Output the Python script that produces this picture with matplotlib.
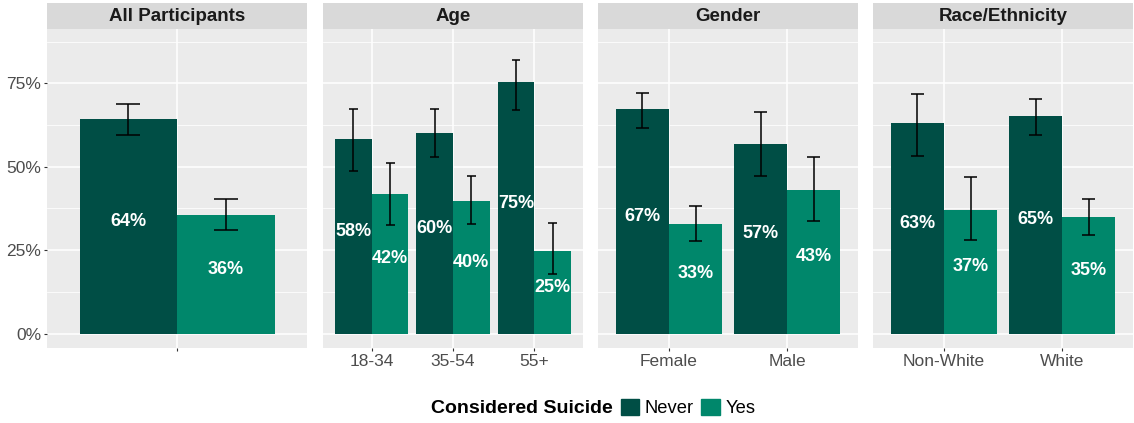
import matplotlib.pyplot as plt
import matplotlib.patches as mpatches
import numpy as np

plt.rcParams['font.family'] = ['Liberation Sans', 'DejaVu Sans']

# facet data: percent never / yes considered suicide, with 95% intervals
facets = ['All Participants', 'Age', 'Gender', 'Race/Ethnicity']
groups = [[''], ['18-34', '35-54', '55+'], ['Female', 'Male'], ['Non-White', 'White']]
never = [[64.4], [58.2, 60.2, 75.3], [67.2, 56.9], [63.0, 65.1]]
yes = [[35.6], [41.8, 39.8, 24.7], [32.8, 43.1], [37.0, 34.9]]
never_lo = [[59.6], [48.7, 52.8, 67.0], [61.7, 47.1], [53.2, 59.6]]
never_hi = [[68.9], [67.4, 67.2, 82.0], [72.2, 66.4], [71.9, 70.3]]
yes_lo = [[31.0], [32.6, 32.7, 18.0], [27.8, 33.6], [28.0, 29.6]]
yes_hi = [[40.3], [51.2, 47.2, 33.0], [38.3, 53.0], [47.0, 40.4]]

c_never = '#004e45'
c_yes = '#00876b'
grey_txt = '#4d4d4d'

W, H = 1134, 423
fig = plt.figure(figsize=(W / 100, H / 100), dpi=100)

panel_left = [47, 323, 598, 873]
panel_w = 260
panel_top, panel_bot = 29, 348
strip_top = 3

for k, name in enumerate(facets):
    ax = fig.add_axes([panel_left[k] / W, (H - panel_bot) / H,
                       panel_w / W, (panel_bot - panel_top) / H])
    ax.set_facecolor('#ebebeb')
    n = len(groups[k])
    x = np.arange(1, n + 1)
    bw = 0.45
    ax.bar(x - bw / 2, never[k], bw, color=c_never, zorder=3)
    ax.bar(x + bw / 2, yes[k], bw, color=c_yes, zorder=3)

    nv = np.array(never[k])
    ys = np.array(yes[k])
    cap = 0.11
    for xs, v, lo, hi in [(x - bw / 2, nv, never_lo[k], never_hi[k]),
                          (x + bw / 2, ys, yes_lo[k], yes_hi[k])]:
        ax.vlines(xs, lo, hi, color='black', lw=1.1, zorder=4)
        ax.hlines(lo, xs - cap / 2, xs + cap / 2, color='black', lw=1.1, zorder=4)
        ax.hlines(hi, xs - cap / 2, xs + cap / 2, color='black', lw=1.1, zorder=4)
        for xi, vi in zip(xs, v):
            ax.text(xi, vi / 2 + 1.5, f'{vi:.0f}%', color='white', fontsize=13,
                    fontweight='bold', ha='center', va='center', zorder=5)

    ax.set_xlim(0.4, n + 0.6)
    ax.set_ylim(-4.35, 91.35)
    ax.set_yticks([0, 25, 50, 75])
    ax.set_yticks([12.5, 37.5, 62.5, 87.5], minor=True)
    ax.set_xticks(x)
    ax.set_xticklabels(groups[k])
    ax.grid(True, which='major', color='white', lw=1.1, zorder=0)
    ax.grid(True, which='minor', axis='y', color='white', lw=0.55, zorder=0)
    ax.set_axisbelow(True)
    for s in ax.spines.values():
        s.set_visible(False)
    ax.tick_params(axis='both', which='major', length=2.5, width=0.8,
                   color='#333333', labelcolor=grey_txt, labelsize=12.5, pad=1.8)
    ax.tick_params(which='minor', length=0)
    if k == 0:
        ax.set_yticklabels(['0%', '25%', '50%', '75%'])
    else:
        ax.tick_params(axis='y', left=False, labelleft=False)

    # facet strip
    sax = fig.add_axes([panel_left[k] / W, (H - panel_top) / H,
                        panel_w / W, (panel_top - strip_top) / H])
    sax.set_facecolor('#d9d9d9')
    sax.set_xticks([])
    sax.set_yticks([])
    for s in sax.spines.values():
        s.set_visible(False)
    sax.text(0.5, 0.48, name, transform=sax.transAxes, ha='center', va='center',
             fontsize=13.5, fontweight='bold', color='#1a1a1a')

# legend along the bottom
fig.text(613 / W, 1 - 408 / H, 'Considered Suicide', ha='right', va='center',
         fontsize=14, fontweight='bold', color='black')
handles = [mpatches.Patch(color=c_never, label='Never'),
           mpatches.Patch(color=c_yes, label='Yes')]
fig.legend(handles=handles, loc='center left', bbox_to_anchor=(621 / W, 1 - 408 / H),
           ncol=2, frameon=False, fontsize=13.2, handlelength=1.0, handleheight=1.0,
           handletextpad=0.3, columnspacing=0.4, borderpad=0, borderaxespad=0)

fig.savefig('out.png', dpi=100)
